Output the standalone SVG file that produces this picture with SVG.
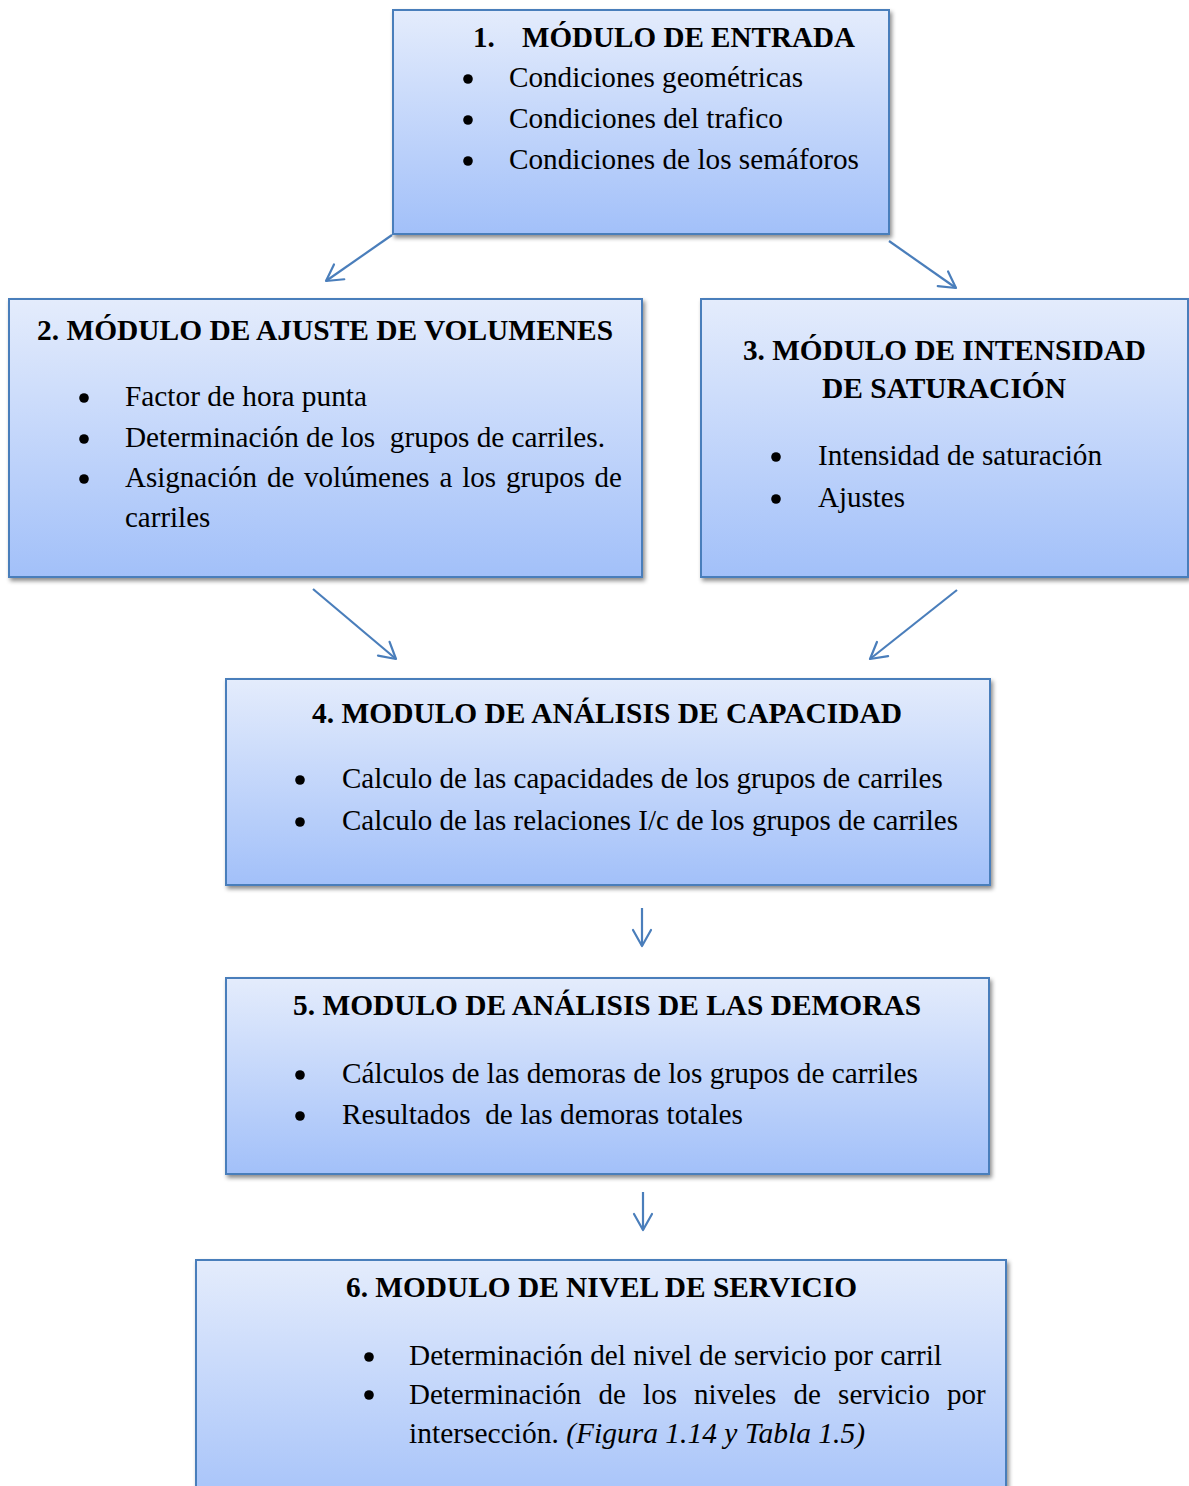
<svg xmlns="http://www.w3.org/2000/svg" width="1189" height="1486" viewBox="0 0 1189 1486">
<defs>
<linearGradient id="g" x1="0" y1="0" x2="0" y2="1">
<stop offset="0" stop-color="#e4ecfc"/>
<stop offset="1" stop-color="#a2c0f9"/>
</linearGradient>
<filter id="sh" x="-5%" y="-5%" width="110%" height="115%">
<feDropShadow dx="2" dy="3" stdDeviation="2.2" flood-color="#000" flood-opacity="0.45"/>
</filter>
<marker id="ah" markerUnits="userSpaceOnUse" markerWidth="24" markerHeight="24" refX="0" refY="0" viewBox="-20 -12 24 24" orient="auto">
<path d="M -16 -9 L 0 0 L -16 9" fill="none" stroke="#4a7ebb" stroke-width="2.2" stroke-linecap="round" stroke-linejoin="round"/>
</marker>
<style>
.box{fill:url(#g);stroke:#4a7ebb;stroke-width:2;filter:url(#sh)}
text{font-family:"Liberation Serif","Times New Roman",serif;font-size:29px;fill:#000;white-space:pre}
.t{font-weight:bold}
.b{fill:#000}
.c{stroke:#4a7ebb;stroke-width:2.2;fill:none;marker-end:url(#ah)}
</style>
</defs>

<g id="connectors">
<line class="c" x1="392" y1="235" x2="326" y2="281"/>
<line class="c" x1="889" y1="241" x2="956" y2="288"/>
<line class="c" x1="313" y1="589" x2="396" y2="659"/>
<line class="c" x1="957" y1="590" x2="870" y2="659"/>
<line class="c" x1="642" y1="908" x2="642" y2="946"/>
<line class="c" x1="643" y1="1192" x2="643" y2="1230"/>
</g>

<g id="node1">
<rect class="box" x="393" y="10" width="496" height="224"/>
<text class="t" x="473" y="47">1.</text>
<text class="t" x="522" y="47" textLength="333" lengthAdjust="spacingAndGlyphs">MÓDULO DE ENTRADA</text>
<circle class="b" cx="468" cy="79" r="4.8"/>
<circle class="b" cx="468" cy="120" r="4.8"/>
<circle class="b" cx="468" cy="161" r="4.8"/>
<text x="509" y="87" textLength="294" lengthAdjust="spacingAndGlyphs">Condiciones geométricas</text>
<text x="509" y="128" textLength="274" lengthAdjust="spacingAndGlyphs">Condiciones del trafico</text>
<text x="509" y="169" textLength="350" lengthAdjust="spacingAndGlyphs">Condiciones de los semáforos</text>
</g>

<g id="node2">
<rect class="box" x="9" y="299" width="633" height="278"/>
<text class="t" x="37" y="340" textLength="576" lengthAdjust="spacingAndGlyphs">2. MÓDULO DE AJUSTE DE VOLUMENES</text>
<circle class="b" cx="84" cy="398" r="4.8"/>
<circle class="b" cx="84" cy="439" r="4.8"/>
<circle class="b" cx="84" cy="479" r="4.8"/>
<text x="125" y="406" textLength="242" lengthAdjust="spacingAndGlyphs">Factor de hora punta</text>
<text x="125" y="447" textLength="480" lengthAdjust="spacingAndGlyphs">Determinación de los  grupos de carriles.</text>
<text y="487"><tspan x="125">Asignación</tspan><tspan x="267">de</tspan><tspan x="304">volúmenes</tspan><tspan x="439.6">a</tspan><tspan x="462.3">los</tspan><tspan x="506">grupos</tspan><tspan x="594.6">de</tspan></text>
<text x="125" y="527">carriles</text>
</g>

<g id="node3">
<rect class="box" x="701" y="299" width="487" height="278"/>
<text class="t" x="743" y="360" textLength="403" lengthAdjust="spacingAndGlyphs">3. MÓDULO DE INTENSIDAD</text>
<text class="t" x="822" y="398" textLength="244" lengthAdjust="spacingAndGlyphs">DE SATURACIÓN</text>
<circle class="b" cx="776" cy="457" r="4.8"/>
<circle class="b" cx="776" cy="499" r="4.8"/>
<text x="818" y="465" textLength="284" lengthAdjust="spacingAndGlyphs">Intensidad de saturación</text>
<text x="818" y="507">Ajustes</text>
</g>

<g id="node4">
<rect class="box" x="226" y="679" width="764" height="206"/>
<text class="t" x="312" y="723" textLength="590" lengthAdjust="spacingAndGlyphs">4. MODULO DE ANÁLISIS DE CAPACIDAD</text>
<circle class="b" cx="300" cy="780" r="4.8"/>
<circle class="b" cx="300" cy="822" r="4.8"/>
<text x="342" y="788">Calculo de las capacidades de los grupos de carriles</text>
<text x="342" y="830">Calculo de las relaciones I/c de los grupos de carriles</text>
</g>

<g id="node5">
<rect class="box" x="226" y="978" width="763" height="196"/>
<text class="t" x="293" y="1015" textLength="628" lengthAdjust="spacingAndGlyphs">5. MODULO DE ANÁLISIS DE LAS DEMORAS</text>
<circle class="b" cx="300" cy="1075" r="4.8"/>
<circle class="b" cx="300" cy="1116" r="4.8"/>
<text x="342" y="1083" textLength="576" lengthAdjust="spacingAndGlyphs">Cálculos de las demoras de los grupos de carriles</text>
<text x="342" y="1124" textLength="401" lengthAdjust="spacingAndGlyphs">Resultados  de las demoras totales</text>
</g>

<g id="node6">
<rect class="box" x="196" y="1260" width="810" height="260"/>
<text class="t" x="346" y="1297" textLength="511" lengthAdjust="spacingAndGlyphs">6. MODULO DE NIVEL DE SERVICIO</text>
<circle class="b" cx="369" cy="1357" r="4.8"/>
<circle class="b" cx="369" cy="1395" r="4.8"/>
<text x="409" y="1365" textLength="533" lengthAdjust="spacingAndGlyphs">Determinación del nivel de servicio por carril</text>
<text y="1404"><tspan x="409">Determinación</tspan><tspan x="598.5">de</tspan><tspan x="643.1">los</tspan><tspan x="694.1">niveles</tspan><tspan x="793.5">de</tspan><tspan x="838.1">servicio</tspan><tspan x="947.1">por</tspan></text>
<text x="409" y="1443" textLength="456" lengthAdjust="spacingAndGlyphs">intersección. <tspan font-style="italic">(Figura 1.14 y Tabla 1.5)</tspan></text>
</g>
</svg>
